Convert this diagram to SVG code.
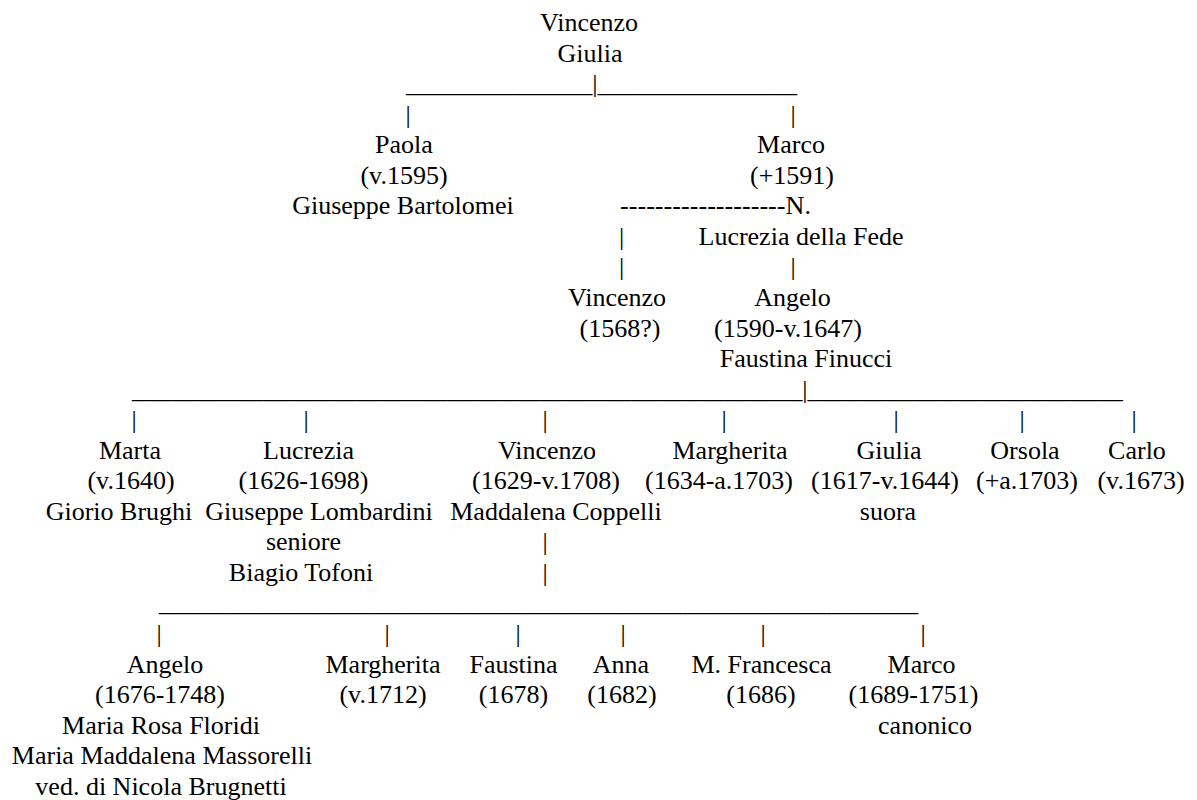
<svg xmlns="http://www.w3.org/2000/svg" width="1197" height="800" viewBox="0 0 1197 800">
<style>
text{font-family:"Liberation Serif","Times New Roman",serif;font-size:26px;fill:#000}
.m{text-anchor:middle}
</style>
<rect width="1197" height="800" fill="#fff"/>
<g id="connectors">
<text x="406" y="92.1" textLength="391" lengthAdjust="spacingAndGlyphs">______________|_______________</text>
<text class="m" x="408" y="122.65">|</text>
<text class="m" x="793" y="122.65">|</text>
<text x="620" y="214.3" textLength="191" lengthAdjust="spacingAndGlyphs">-------------------N.</text>
<text class="m" x="621.5" y="244.85">|</text>
<text class="m" x="621.5" y="275.4">|</text>
<text class="m" x="793" y="275.4">|</text>
<text x="132" y="397.6" textLength="991" lengthAdjust="spacingAndGlyphs">___________________________________________________|________________________</text>
<text class="m" x="134" y="428.15">|</text>
<text class="m" x="306" y="428.15">|</text>
<text class="m" x="545" y="428.15">|</text>
<text class="m" x="724" y="428.15">|</text>
<text class="m" x="896" y="428.15">|</text>
<text class="m" x="1022" y="428.15">|</text>
<text class="m" x="1134" y="428.15">|</text>
<text class="m" x="545" y="550.35">|</text>
<text class="m" x="545" y="580.9">|</text>
<text x="159" y="611.45" textLength="759" lengthAdjust="spacingAndGlyphs">__________________________________________________________</text>
<text class="m" x="159" y="642">|</text>
<text class="m" x="387" y="642">|</text>
<text class="m" x="518" y="642">|</text>
<text class="m" x="623" y="642">|</text>
<text class="m" x="763" y="642">|</text>
<text class="m" x="923" y="642">|</text>
</g>
<g id="n-vincenzo-giulia">
<text class="m" x="589" y="31">Vincenzo</text>
<text class="m" x="590" y="61.55">Giulia</text>
</g>
<g id="n-paola">
<text class="m" x="404" y="153.2">Paola</text>
<text class="m" x="404" y="183.75">(v.1595)</text>
<text class="m" x="403" y="214.3">Giuseppe Bartolomei</text>
</g>
<g id="n-marco">
<text class="m" x="791" y="153.2">Marco</text>
<text class="m" x="792" y="183.75">(+1591)</text>
</g>
<g id="n-lucrezia-fede">
<text class="m" x="801" y="244.85">Lucrezia della Fede</text>
</g>
<g id="n-vincenzo-1568">
<text class="m" x="617" y="305.95">Vincenzo</text>
<text class="m" x="620" y="336.5">(1568?)</text>
</g>
<g id="n-angelo-1590">
<text class="m" x="792.5" y="305.95">Angelo</text>
<text class="m" x="788" y="336.5">(1590-v.1647)</text>
<text class="m" x="806" y="367.05">Faustina Finucci</text>
</g>
<g id="n-marta">
<text class="m" x="130" y="458.7">Marta</text>
<text class="m" x="131" y="489.25">(v.1640)</text>
<text class="m" x="119" y="519.8">Giorio Brughi</text>
</g>
<g id="n-lucrezia">
<text class="m" x="308.5" y="458.7">Lucrezia</text>
<text class="m" x="303.5" y="489.25">(1626-1698)</text>
<text class="m" x="319" y="519.8">Giuseppe Lombardini</text>
<text class="m" x="303.5" y="550.35">seniore</text>
<text class="m" x="301" y="580.9">Biagio Tofoni</text>
</g>
<g id="n-vincenzo-1629">
<text class="m" x="547" y="458.7">Vincenzo</text>
<text class="m" x="546" y="489.25">(1629-v.1708)</text>
<text class="m" x="556" y="519.8">Maddalena Coppelli</text>
</g>
<g id="n-margherita-1634">
<text class="m" x="730" y="458.7">Margherita</text>
<text class="m" x="719" y="489.25">(1634-a.1703)</text>
</g>
<g id="n-giulia-1617">
<text class="m" x="889" y="458.7">Giulia</text>
<text class="m" x="885" y="489.25">(1617-v.1644)</text>
<text class="m" x="888" y="519.8">suora</text>
</g>
<g id="n-orsola">
<text class="m" x="1025" y="458.7">Orsola</text>
<text class="m" x="1027" y="489.25">(+a.1703)</text>
</g>
<g id="n-carlo">
<text class="m" x="1137" y="458.7">Carlo</text>
<text class="m" x="1141" y="489.25">(v.1673)</text>
</g>
<g id="n-angelo-1676">
<text class="m" x="165" y="672.55">Angelo</text>
<text class="m" x="160" y="703.1">(1676-1748)</text>
<text class="m" x="161" y="733.65">Maria Rosa Floridi</text>
<text class="m" x="162" y="764.2">Maria Maddalena Massorelli</text>
<text class="m" x="161" y="794.75">ved. di Nicola Brugnetti</text>
</g>
<g id="n-margherita-1712">
<text class="m" x="383" y="672.55">Margherita</text>
<text class="m" x="383" y="703.1">(v.1712)</text>
</g>
<g id="n-faustina">
<text class="m" x="513.5" y="672.55">Faustina</text>
<text class="m" x="513.5" y="703.1">(1678)</text>
</g>
<g id="n-anna">
<text class="m" x="621" y="672.55">Anna</text>
<text class="m" x="622" y="703.1">(1682)</text>
</g>
<g id="n-francesca">
<text class="m" x="761.5" y="672.55">M. Francesca</text>
<text class="m" x="761" y="703.1">(1686)</text>
</g>
<g id="n-marco-1689">
<text class="m" x="921.5" y="672.55">Marco</text>
<text class="m" x="913.5" y="703.1">(1689-1751)</text>
<text class="m" x="925" y="733.65">canonico</text>
</g>
</svg>
